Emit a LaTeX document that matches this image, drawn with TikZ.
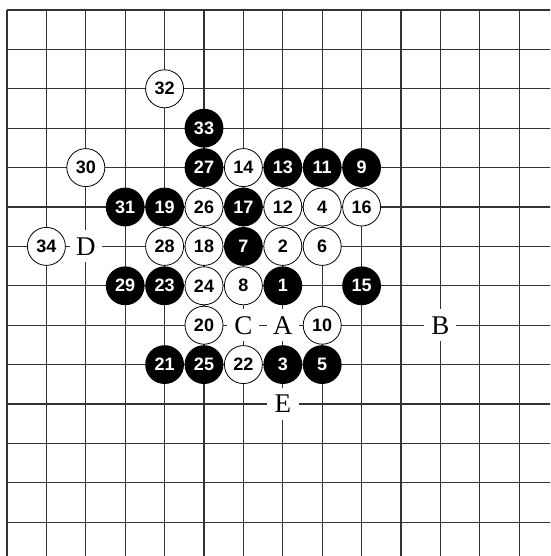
\documentclass[tikz,border=0pt]{standalone}
\usepackage{fontspec}
\setmainfont{Liberation Serif}
\newfontfamily\stonefont{Liberation Sans}
\usetikzlibrary{positioning}
\definecolor{gridc}{HTML}{333333}
\tikzset{
  gl/.style={gridc,line width=1.3pt},
  stonebase/.style={circle,inner sep=0pt,font=\stonefont\bfseries\fontsize{18}{18}\selectfont},
  bst/.style={stonebase,fill=black,text=white,minimum size=38.8pt},
  wst/.style={stonebase,draw=black,line width=0.8pt,fill=white,text=black,minimum size=38pt},
  mk/.style={fill=white,minimum width=32pt,minimum height=32pt,inner sep=0pt,font=\fontsize{27}{27}\selectfont}
}

\begin{document}
\begin{tikzpicture}[x=39.4pt,y=-39.4pt]
\useasboundingbox (-7pt,10pt) rectangle (543pt,-546pt);
\clip (-7pt,10pt) rectangle (543pt,-546pt);
% board
\foreach \i in {0,...,13} {
  \draw[gl] (\i,0) -- (\i,14);
  \draw[gl] (0,\i) -- (14,\i);
}
% black stones
\foreach \c/\r/\n in {7/7/1,7/9/3,8/9/5,6/6/7,9/4/9,8/4/11,7/4/13,9/7/15,6/5/17,
    4/5/19,4/9/21,4/7/23,5/9/25,5/4/27,3/7/29,3/5/31,5/3/33}
  \node[bst] (s\n) at (\c,\r) {\n};
% white stones
\foreach \c/\r/\n in {7/6/2,8/5/4,8/6/6,6/7/8,8/8/10,7/5/12,6/4/14,9/5/16,5/6/18,
    5/8/20,6/9/22,5/7/24,5/5/26,4/6/28,2/4/30,4/2/32,1/6/34}
  \node[wst] (s\n) at (\c,\r) {\n};
% letters
\node[mk] (mA) at (7,8) {A};
\node[mk] (mB) at (11,8) {B};
\node[mk] (mC) at (6,8) {C};
\node[mk] (mD) at (2,6) {D};
\node[mk] (mE) at (7,10) {E};
\end{tikzpicture}
\end{document}
